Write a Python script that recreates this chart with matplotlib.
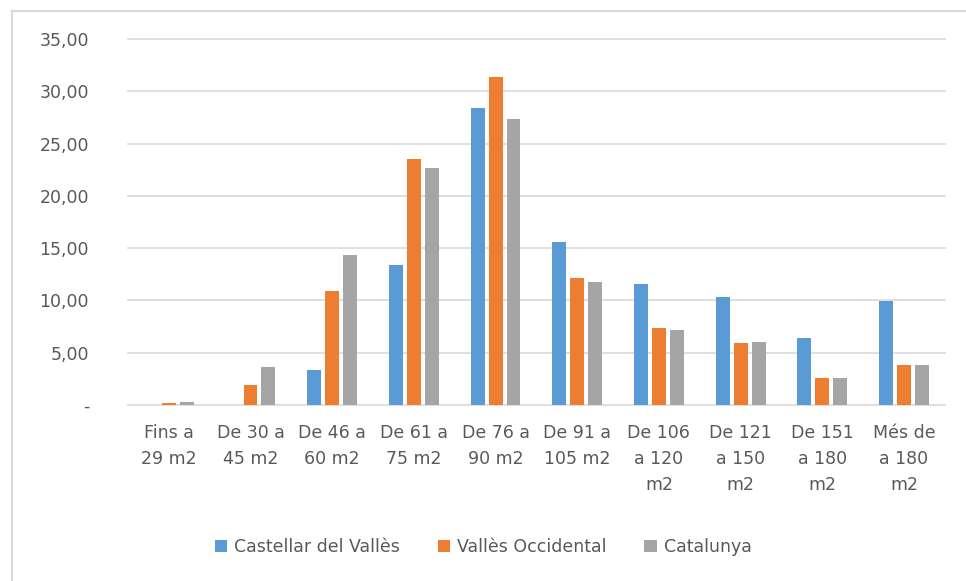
import matplotlib
matplotlib.use("Agg")
import matplotlib.pyplot as plt
import matplotlib.lines as mlines
from matplotlib.ticker import FuncFormatter, MultipleLocator
import numpy as np

plt.rcParams['font.family'] = ['DejaVu Sans']

# --- data ---
categories = ["Fins a\n29 m2", "De 30 a\n45 m2", "De 46 a\n60 m2", "De 61 a\n75 m2",
              "De 76 a\n90 m2", "De 91 a\n105 m2", "De 106\na 120\nm2",
              "De 121\na 150\nm2", "De 151\na 180\nm2", "Més de\na 180\nm2"]
series_names = ["Castellar del Vallès", "Vallès Occidental", "Catalunya"]
castellar = [0.0, 0.0, 3.35, 13.38, 28.39, 15.58, 11.57, 10.33, 6.40, 9.94]
valles_occ = [0.19, 1.91, 10.90, 23.50, 31.36, 12.14, 7.36, 5.93, 2.58, 3.82]
catalunya = [0.29, 3.63, 14.34, 22.65, 27.34, 11.76, 7.17, 6.02, 2.58, 3.82]

COLORS = ['#5B9BD5', '#ED7D31', '#A5A5A5']
TEXT = '#595959'
GRID = '#D9D9D9'

fig = plt.figure(figsize=(9.66, 5.81), dpi=100)
fig.patch.set_facecolor('white')

# chart frame: only the top and left edges fall inside the image
fx, fy = 12 / 966, 1 - 11 / 581
fig.lines.append(mlines.Line2D([fx, 1.0], [fy, fy], transform=fig.transFigure,
                               color=GRID, linewidth=1.5))
fig.lines.append(mlines.Line2D([fx, fx], [0.0, fy], transform=fig.transFigure,
                               color=GRID, linewidth=1.5))

ax = fig.add_axes([0.1325, 0.303, 0.8455, 0.63])

x = np.arange(len(categories))
w = 0.171
step = 0.22
for i, (vals, name) in enumerate(zip([castellar, valles_occ, catalunya], series_names)):
    ax.bar(x + (i - 1) * step, vals, width=w, color=COLORS[i], label=name, zorder=3)

ax.set_xlim(-0.5, len(categories) - 0.5)
ax.set_ylim(0, 35)
ax.yaxis.set_major_locator(MultipleLocator(5))


def fmt(v, pos):
    if abs(v) < 1e-9:
        return "-"
    return f"{v:.2f}".replace(".", ",")


ax.yaxis.set_major_formatter(FuncFormatter(fmt))
ax.grid(axis='y', color=GRID, linewidth=1.2, zorder=0)
for gl in ax.get_ygridlines():
    gl.set_clip_on(False)
for s in ax.spines.values():
    s.set_visible(False)

ax.set_xticks(x)
ax.set_xticklabels(categories, linespacing=1.55)
ax.tick_params(axis='y', length=0, pad=28, labelsize=12.5, labelcolor=TEXT)
ax.tick_params(axis='x', length=0, pad=14, labelsize=12.5, labelcolor=TEXT)

leg = fig.legend(loc='center', bbox_to_anchor=(0.5, 1 - 547 / 581), ncol=3,
                 frameon=False, fontsize=12.5, handlelength=0.7, handleheight=0.7,
                 handletextpad=0.4, columnspacing=2.2)
for t in leg.get_texts():
    t.set_color(TEXT)

fig.savefig("out.png", dpi=100, facecolor='white')
